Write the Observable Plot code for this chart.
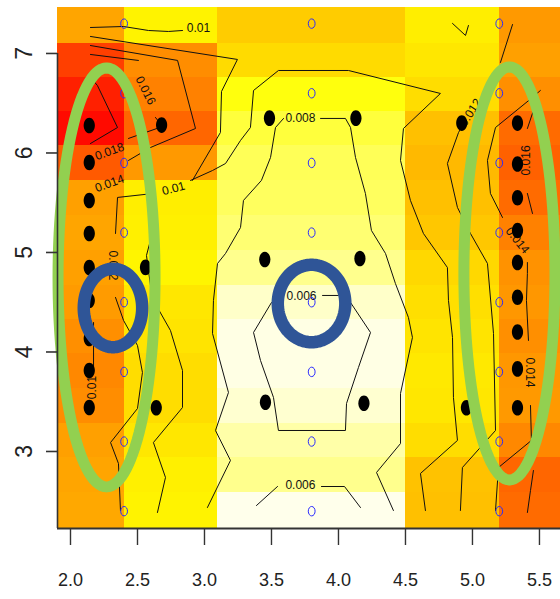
<!DOCTYPE html>
<html>
<head>
<meta charset="utf-8">
<script src="https://cdn.jsdelivr.net/npm/d3@7"></script>
<script src="https://cdn.jsdelivr.net/npm/@observablehq/plot@0.6"></script>
<style>
  html, body { margin: 0; padding: 0; background: #fff; }
  #chart svg { display: block; }
</style>
</head>
<body>
<div id="chart"></div>
<script>
// Cell edges of the density image (columns left to right, rows top to bottom)
const xEdges = [1.9, 2.4, 3.1, 4.5, 5.2, 5.9];
const yEdges = [7.462, 7.101, 6.759, 6.417, 6.075, 5.724, 5.372, 5.02, 4.668, 4.327, 3.985, 3.633, 3.281, 2.94, 2.588, 2.226];

// Estimated density per cell, one array per column, rows top to bottom
const zCol1 = [0.0122, 0.0164, 0.0177, 0.0186, 0.0153, 0.0124, 0.0122, 0.0124, 0.0126, 0.0131, 0.0134, 0.0132, 0.0124, 0.0122, 0.0121];
const zCol2 = [0.0090, 0.0132, 0.0137, 0.0148, 0.0127, 0.0092, 0.0091, 0.0089, 0.0095, 0.0096, 0.0099, 0.0099, 0.0095, 0.0091, 0.0090];
const zCol3 = [0.0106, 0.0100, 0.0083, 0.0076, 0.0072, 0.0071, 0.0068, 0.0064, 0.0055, 0.0051, 0.0051, 0.0054, 0.0060, 0.0064, 0.0050];
const zCol4 = [0.0092, 0.0095, 0.0099, 0.0111, 0.0114, 0.0111, 0.0108, 0.0101, 0.0098, 0.0096, 0.0094, 0.0095, 0.0099, 0.0110, 0.0111];
const zCol5 = [0.0127, 0.0124, 0.0131, 0.0146, 0.0150, 0.0146, 0.0137, 0.0130, 0.0128, 0.0131, 0.0128, 0.0127, 0.0134, 0.0148, 0.0146];
const densityColumns = [zCol1, zCol2, zCol3, zCol4, zCol5];

// Sampling grid (open markers)
const gridX = [2.4, 3.8, 5.2];
const gridY = [2.4, 3.1, 3.8, 4.5, 5.2, 5.9, 6.6, 7.3];

// Observed locations (filled points)
const pointX = [2.14, 2.14, 2.14, 2.14, 2.14, 2.14, 2.14, 2.14, 2.14,
                2.68, 2.56, 2.64,
                3.485, 4.13, 3.45, 4.16, 3.455, 4.19,
                4.92, 4.955,
                5.336, 5.336, 5.336, 5.336, 5.336, 5.336, 5.336, 5.336, 5.336];
const pointY = [6.276, 5.905, 5.523, 5.191, 4.849, 4.518, 4.136, 3.814, 3.442,
                6.28, 4.85, 3.44,
                6.35, 6.35, 4.93, 4.94, 3.495, 3.485,
                6.30, 3.44,
                6.30, 5.89, 5.55, 5.22, 4.90, 4.55, 4.20, 3.83, 3.44];

// Contour polylines (broken where a level label sits)
const contourPaths = [
  [[2.149,7.261],[2.396,7.271],[2.582,7.231],[2.731,7.221],[2.836,7.231]],
  [[2.149,7.171],[3.246,6.940],[3.127,6.618],[3.119,6.206],[2.910,5.724]],
  [[2.619,5.593],[2.351,5.553],[2.336,5.191]],
  [[2.336,4.548],[2.396,4.317],[2.5,4.065],[2.537,3.794],[2.5,3.432],[2.299,3.090],[2.358,2.879],[2.373,2.407]],
  [[2.149,7.080],[2.799,6.930],[2.933,6.246],[2.597,6.055],[2.433,5.925]],
  [[2.149,6.990],[2.507,6.930]],
  [[2.634,6.357],[2.687,6.266],[2.433,6.146]],
  [[2.149,6.759],[2.201,6.678],[2.351,6.256],[2.149,6.095]],
  [[2.612,5.201],[2.567,4.970],[2.597,4.668],[2.649,4.447],[2.746,4.216],[2.836,3.814],[2.836,3.442],[2.619,3.090],[2.709,2.739],[2.649,2.387]],
  [[2.896,5.724],[3.060,5.824],[3.157,5.894],[3.269,6.126],[3.343,6.256],[3.366,6.628],[3.552,6.829],[4.075,6.829],[4.761,6.598],[4.485,6.246],[4.463,5.925],[4.537,5.523],[4.634,5.191],[4.813,4.849],[4.821,4.518],[4.851,4.146],[4.858,3.543],[4.888,3.111],[4.612,2.779],[4.649,2.407]],
  [[3.590,6.347],[3.530,6.256],[3.493,5.955],[3.425,5.724],[3.291,5.523],[3.269,5.251],[3.157,4.990],[3.097,4.889],[3.067,4.518],[3.060,4.186],[3.179,3.593],[3.082,3.211],[3.194,2.910],[3.022,2.437]],
  [[3.866,6.347],[4.052,6.347],[4.090,6.256],[4.127,5.955],[4.201,5.593],[4.246,5.221],[4.351,4.990],[4.425,4.688],[4.522,4.347],[4.552,4.146],[4.463,3.583],[4.463,3.080],[4.284,2.789],[4.410,2.407]],
  [[3.881,4.568],[4.0,4.568],[4.090,4.497],[4.239,4.196],[4.149,3.844],[4.060,3.482],[4.052,3.211],[3.552,3.211],[3.515,3.543],[3.418,3.915],[3.366,4.196],[3.5,4.497],[3.560,4.558]],
  [[3.388,2.457],[3.545,2.648]],
  [[3.873,2.648],[4.045,2.648],[4.164,2.437]],
  [[4.851,7.302],[4.948,7.181],[4.970,7.281]],
  [[5.299,7.291],[5.209,6.910]],
  [[4.940,6.31],[4.896,6.206],[4.813,5.894],[4.888,5.452],[4.985,5.191],[5.112,4.889],[5.157,4.186],[5.172,3.211],[4.925,2.839],[4.910,2.407]],
  [[5.507,6.628],[5.448,6.558],[5.172,6.256],[5.112,5.925],[5.134,5.593],[5.224,5.352]],
  [[5.410,4.899],[5.410,4.789],[5.403,4.518],[5.418,4.116]],
  [[5.433,3.462],[5.440,3.111],[5.194,2.839],[5.172,2.407]],
  [[5.455,6.427],[5.410,6.246]],
  [[5.410,5.593],[5.448,5.392]],
  [[5.455,2.809],[5.433,2.608],[5.410,2.387]],
  [[2.172,4.296],[2.172,3.854]]
];

// Contour level labels
const labelText  = ["0.01", "0.01", "0.012", "0.014", "0.016", "0.018", "0.01", "0.008", "0.006", "0.006", "0.012", "0.016", "0.014", "0.014"];
const labelX     = [2.955, 2.769, 2.313, 2.291, 2.560, 2.291, 2.164, 3.716, 3.724, 3.716, 4.985, 5.403, 5.336, 5.425];
const labelY     = [7.251, 5.643, 4.869, 5.693, 6.628, 6.015, 3.643, 6.347, 4.558, 2.658, 6.407, 5.925, 5.121, 3.794];
const labelAngle = [0, -15, 90, -20, 63, -20, -90, 0, 0, 0, -57, -90, 51, 90];

// Highlighted regions: centre and half-widths in data units
const greenRegions = [
  {cx: 2.269, cy: 4.749, rx: 0.362, ry: 2.105},
  {cx: 5.276, cy: 4.789, rx: 0.340, ry: 2.075}
];
const blueRegions = [
  {cx: 2.317, cy: 4.442, rx: 0.218, ry: 0.394},
  {cx: 3.799, cy: 4.487, rx: 0.252, ry: 0.389}
];

const xTicks = [2, 2.5, 3, 3.5, 4, 4.5, 5, 5.5];
const yTicks = [3, 4, 5, 6, 7];

// Vertical stretch of markers and of each kind of label
const STRETCH = 1.39;
const textStretch = {"contour label": 1.39, "x tick label": 1.62, "y tick label": 1};

// Heat palette: pale yellow (low) through yellow and orange to red (high)
function heat(t) {
  t = Math.max(0, Math.min(1, t));
  let g = 255, b = 0;
  if (t < 0.25) b = 235 * (1 - t / 0.25);
  else g = 255 * (1 - (t - 0.25) / 0.75);
  return `rgb(255,${Math.round(g)},${Math.round(b)})`;
}

// Ellipse marker, taller than wide
const tallEllipse = {
  draw(context, size) {
    const rx = Math.sqrt(size / Math.PI), ry = rx * STRETCH, c = 0.5523;
    context.moveTo(rx, 0);
    context.bezierCurveTo(rx, c * ry, c * rx, ry, 0, ry);
    context.bezierCurveTo(-c * rx, ry, -rx, c * ry, -rx, 0);
    context.bezierCurveTo(-rx, -c * ry, -c * rx, -ry, 0, -ry);
    context.bezierCurveTo(c * rx, -ry, rx, -c * ry, rx, 0);
    context.closePath();
  }
};

const cells = [];
densityColumns.forEach((col, i) => col.forEach((z, j) => {
  cells.push({x1: xEdges[i], x2: xEdges[i + 1], y1: yEdges[j + 1], y2: yEdges[j], z});
}));

const contourRows = contourPaths.flatMap((path, id) => path.map(([x, y]) => ({id, x, y})));
const labels = labelText.map((text, i) => ({text, x: labelX[i], y: labelY[i], angle: labelAngle[i]}));
const gridPoints = d3.cross(gridX, gridY, (x, y) => ({x, y}));
const points = pointX.map((x, i) => ({x, y: pointY[i]}));

function outline(regions) {
  const angles = d3.range(0, 361, 3);
  return regions.flatMap((r, id) => angles.map(a => ({
    id,
    x: r.cx + r.rx * Math.cos(a * Math.PI / 180),
    y: r.cy + r.ry * Math.sin(a * Math.PI / 180)
  })));
}

const xMin = 1.903, xMax = 5.657, yMin = 2.226, yMax = 7.462;

const chart = Plot.plot({
  width: 560,
  height: 599,
  marginLeft: 57,
  marginRight: 0,
  marginTop: 7,
  marginBottom: 71,
  style: {fontFamily: "'Liberation Sans', Arial, Helvetica, sans-serif", background: "#fff"},
  x: {domain: [xMin, xMax]},
  y: {domain: [yMin, yMax]},
  color: {type: "linear", domain: [0.005, 0.019], interpolate: heat, clamp: true},
  marks: [
    Plot.rect(cells, {x1: "x1", x2: "x2", y1: "y1", y2: "y2", fill: "z", clip: "frame", shapeRendering: "crispEdges"}),
    Plot.line(contourRows, {x: "x", y: "y", z: "id", stroke: "#111", strokeWidth: 1}),
    Plot.text(labels, {x: "x", y: "y", text: "text", rotate: "angle", fontSize: 12, fill: "#111", ariaLabel: "contour label"}),
    Plot.dot(gridPoints, {x: "x", y: "y", r: 3.4, symbol: tallEllipse, stroke: "#2b2bff", strokeWidth: 1, fill: "none"}),
    Plot.dot(points, {x: "x", y: "y", r: 5.6, symbol: tallEllipse, fill: "#000"}),
    Plot.line(outline(greenRegions), {x: "x", y: "y", z: "id", stroke: "#92D050", strokeWidth: 11}),
    Plot.line(outline(blueRegions), {x: "x", y: "y", z: "id", stroke: "#2F5597", strokeWidth: 12.5}),
    Plot.ruleX([xMin], {y1: 7, y2: yMin, stroke: "#333", strokeWidth: 1.6}),
    Plot.ruleY([yMin], {x1: xMin, x2: xMax, stroke: "#333", strokeWidth: 1.8}),
    Plot.axisX({ticks: xTicks, tickSize: 17, tickFormat: () => "", label: null, stroke: "#333", strokeWidth: 1.4}),
    Plot.axisY({ticks: yTicks, tickSize: 11, tickFormat: () => "", label: null, stroke: "#333", strokeWidth: 1.6}),
    Plot.text(xTicks, {x: d => d, frameAnchor: "bottom", dy: 52, lineAnchor: "middle", text: d => d.toFixed(1), fontSize: 18, fill: "#222", ariaLabel: "x tick label"}),
    Plot.text(yTicks, {y: d => d, frameAnchor: "left", dx: -33, rotate: -90, textAnchor: "middle", lineAnchor: "middle", text: d => String(d), fontSize: 23, fill: "#222", ariaLabel: "y tick label"})
  ]
});

document.getElementById("chart").appendChild(chart);

// Stretch each label vertically about its own centre, via a wrapping group
chart.querySelectorAll("text").forEach(t => {
  if (!t.textContent) return;
  const owner = t.closest("g[aria-label]");
  const k = owner ? textStretch[owner.getAttribute("aria-label")] : undefined;
  if (!k || k === 1) return;
  const parent = t.parentNode;
  const bb = t.getBBox();
  const local = new DOMPoint(bb.x + bb.width / 2, bb.y + bb.height / 2);
  const screen = local.matrixTransform(t.getCTM());
  const p = screen.matrixTransform(parent.getCTM().inverse());
  const g = document.createElementNS("http://www.w3.org/2000/svg", "g");
  g.setAttribute("transform", `translate(${p.x},${p.y}) scale(1,${k}) translate(${-p.x},${-p.y})`);
  parent.insertBefore(g, t);
  g.appendChild(t);
});
</script>
</body>
</html>
